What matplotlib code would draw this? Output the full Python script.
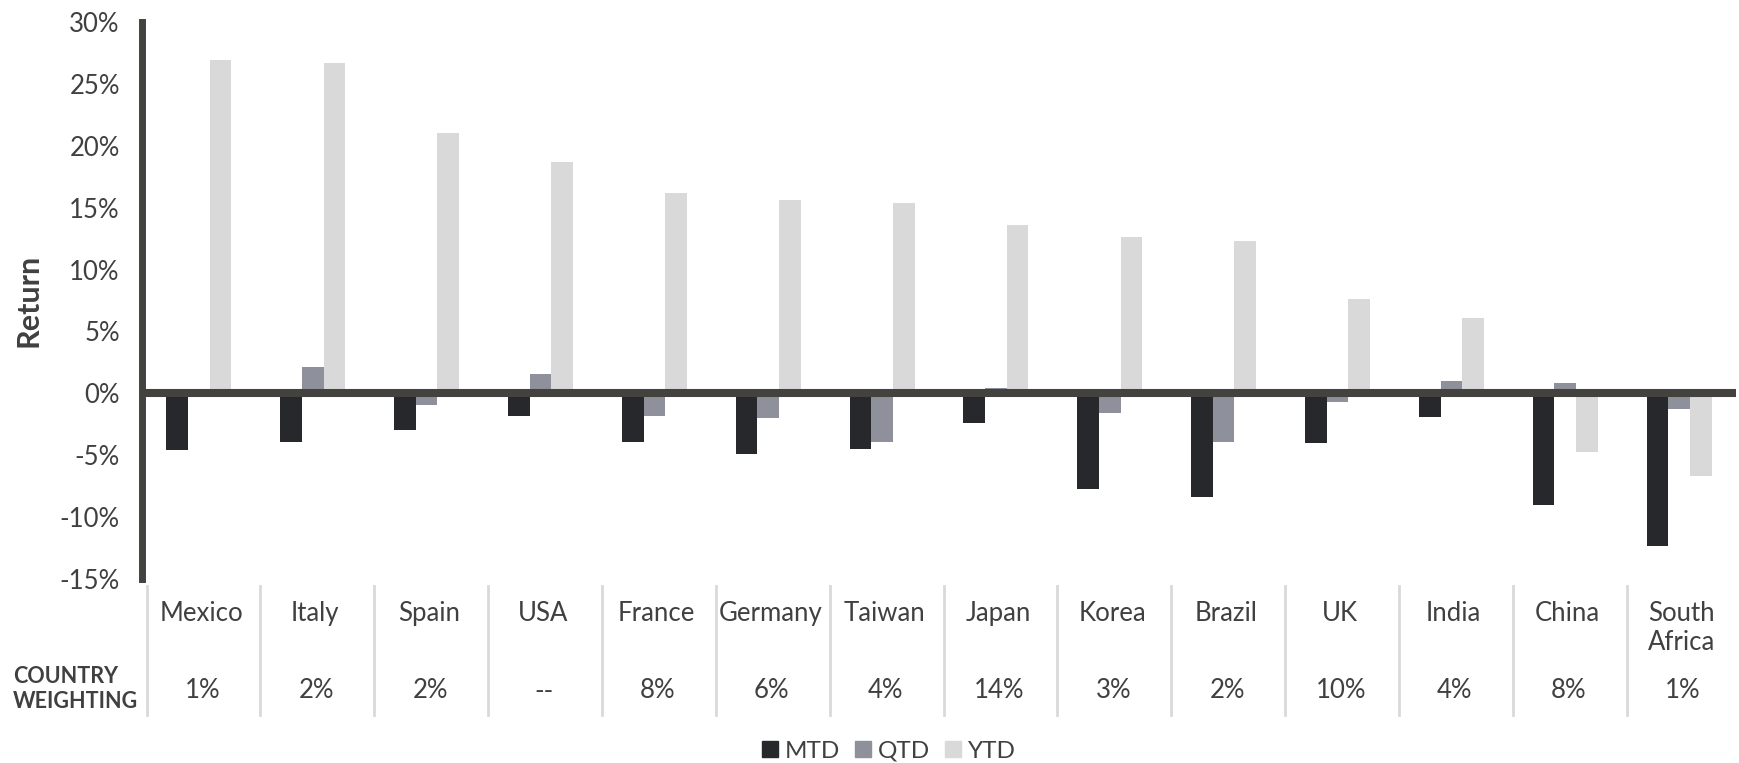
import matplotlib
matplotlib.use('Agg')
import matplotlib.pyplot as plt
import matplotlib.transforms as mtransforms
from matplotlib.patches import Patch
import numpy as np

# valores (em %)
paises = ['Mexico', 'Italy', 'Spain', 'USA', 'France', 'Germany', 'Taiwan',
          'Japan', 'Korea', 'Brazil', 'UK', 'India', 'China', 'South\nAfrica']
mtd = [-4.6, -3.95, -2.95, -1.8, -3.95, -4.9, -4.5, -2.4, -7.7, -8.4, -4.0, -1.9, -9.0, -12.3]
qtd = [0.0, 2.1, -0.95, 1.6, -1.8, -2.0, -3.9, 0.45, -1.6, -3.9, -0.7, 1.0, 0.8, -1.25]
ytd = [26.9, 26.7, 21.0, 18.7, 16.2, 15.6, 15.4, 13.6, 12.6, 12.3, 7.6, 6.1, -4.7, -6.65]
pesos = ['1%', '2%', '2%', '--', '8%', '6%', '4%', '14%', '3%', '2%', '10%', '4%', '8%', '1%']
y_ticks = [-15, -10, -5, 0, 5, 10, 15, 20, 25, 30]

cor_mtd = '#26282c'
cor_qtd = '#8e919c'
cor_ytd = '#d9d9d9'
cor_eixo = '#43423e'
cor_texto = '#404040'

plt.rcParams['font.family'] = ['Lato', 'DejaVu Sans']

W, H = 1739, 763
fig = plt.figure(figsize=(W / 100, H / 100), dpi=100)
ax = fig.add_axes([142 / W, 1 - 579 / H, 1594 / W, (579 - 22) / H])

x = np.arange(len(paises))
w = 0.19
ax.bar(x - w, mtd, w, color=cor_mtd, zorder=2)
ax.bar(x, qtd, w, color=cor_qtd, zorder=2)
ax.bar(x + w, ytd, w, color=cor_ytd, zorder=2)

ax.axhline(0, color=cor_eixo, lw=5.8, zorder=3)

ax.set_xlim(-0.5, len(paises) - 0.5)
ax.set_ylim(-15, 30)
ax.set_yticks(y_ticks)
ax.set_yticklabels([f'{v}%' for v in y_ticks], fontsize=18.5, color=cor_texto)
ax.tick_params(axis='y', length=0, pad=16)
ax.set_xticks([])

for s in ['top', 'right', 'bottom']:
    ax.spines[s].set_visible(False)
ax.spines['left'].set_color(cor_eixo)
ax.spines['left'].set_linewidth(5)

ax.set_ylabel('Return', fontsize=22, fontweight='bold', color=cor_texto, labelpad=12)

# tabela de pesos abaixo do grafico
trans = mtransforms.blended_transform_factory(ax.transData, fig.transFigure)
for i, nome in enumerate(paises):
    ax.plot([i - 0.46, i - 0.46], [1 - 586 / H, 1 - 715 / H], color='#d9d9d9',
            lw=2, transform=trans, clip_on=False)
    ax.text(i + 0.02, 1 - 601 / H, nome, transform=trans, ha='center', va='top',
            fontsize=18.5, color=cor_texto, linespacing=1.2)
    ax.text(i + 0.03, 1 - 691 / H, pesos[i], transform=trans, ha='center', va='center',
            fontsize=18.5, color=cor_texto)

fig.text(13 / W, 1 - 689 / H, 'COUNTRY\nWEIGHTING', ha='left', va='center',
         fontsize=15.5, fontweight='bold', color=cor_texto, linespacing=1.25)

handles = [Patch(color=cor_mtd, label='MTD'),
           Patch(color=cor_qtd, label='QTD'),
           Patch(color=cor_ytd, label='YTD')]
fig.legend(handles=handles, loc='center', bbox_to_anchor=(889 / W, 1 - 751 / H),
           ncol=3, frameon=False, fontsize=17.5, handlelength=0.65, handleheight=0.65,
           handletextpad=0.3, columnspacing=0.6, labelcolor=cor_texto)

fig.savefig('out.png', dpi=100)
